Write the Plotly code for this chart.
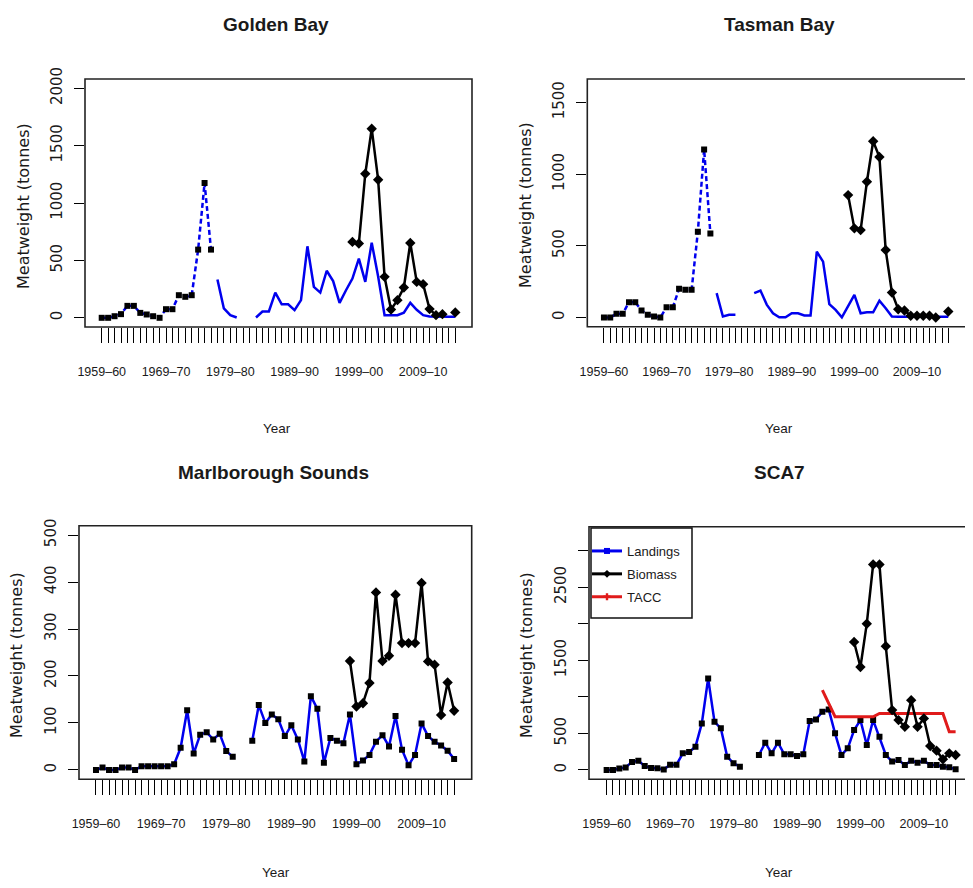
import plotly.graph_objects as go

# ---------------- data ----------------
years = list(range(1959, 2015))
early_years = list(range(1959, 1977))          # combined Golden+Tasman Bay (dashed)
late_years = list(range(1977, 2015))
bio_years = list(range(1998, 2015))
tacc_years = list(range(1993, 2015))

gb_early = [0, 0, 14, 32, 104, 104, 43, 29, 14, 0, 75, 75, 197, 183, 197, 594, 1174, 594]
tb_early = [0, 0, 26, 26, 107, 107, 49, 19, 7, 0, 72, 72, 200, 193, 193, 599, 1172, 587]

gb_landings = [334, 82, 23, 3, None, None, 3, 55, 55, 220, 118, 118, 67, 154, 623, 270,
               220, 410, 320, 130, 240, 342, 516, 313, 655, 360, 23, 23, 23, 45, 130, 70,
               23, 12, 9, 9, 9, 9]
gb_biomass = [661, 647, 1255, 1647, 1203, 357, 73, 154, 264, 652, 313, 293, 76, 23, 32, None, 47]

tb_landings = [170, 7, 19, 19, None, None, 170, 188, 90, 30, 2, 2, 30, 30, 14, 14,
               459, 390, 93, 53, 2, 77, 158, 30, 37, 37, 118, 65, 7, 5, 5, 5,
               5, 5, 5, 5, 5, 5]
tb_biomass = [854, 622, 610, 947, 1230, 1120, 471, 174, 58, 49, 12, 12, 12, 12, 0, None, 42]

ms_landings = [0, 5, 0, 0, 5, 5, 0, 8, 8, 8, 8, 8, 12, 47, 127, 35, 75, 80, 65, 77, 40, 28,
               None, None,
               62, 138, 100, 118, 108, 72, 95, 65, 18, 157, 130, 15, 68, 62, 57, 118, 12, 20,
               32, 60, 74, 50, 115, 43, 10, 32, 99, 72, 60, 52, 41, 23]
ms_biomass = [232, 135, 142, 185, 378, 232, 243, 373, 270, 270, 270, 398, 231, 224, 117, 186, 126]

sca7_landings = [0, 0, 20, 35, 110, 125, 55, 25, 23, 5, 70, 70, 227, 245, 318, 637, 1251, 659,
                 569, 182, 91, 45, None, None,
                 205, 373, 227, 373, 214, 214, 191, 214, 668, 691, 796, 828, 501, 205, 296,
                 546, 682, 341, 682, 455, 205, 114, 136, 68, 127, 100, 127, 68, 68, 45, 36, 9]
sca7_biomass = [1750, 1409, 2001, 2810, 2810, 1692, 819, 682, 591, 955, 591, 705, 327, 264,
                146, 227, 205]
sca7_tacc = [1092, 910, 728, 728, 728, 728, 728, 728, 728, 773, 773, 773, 773, 773, 773,
             773, 773, 773, 773, 773, 523, 523]

x_labels = {1959: "1959–60", 1969: "1969–70", 1979: "1979–80",
            1989: "1989–90", 1999: "1999–00", 2009: "2009–10"}

titles = ["Golden Bay", "Tasman Bay", "Marlborough Sounds", "SCA7"]
y_title = "Meatweight (tonnes)"
x_title = "Year"
legend_names = ["Landings", "Biomass", "TACC"]

# ---------------- style ----------------
PAGE_W, PAGE_H = 973, 888
OFF = 8                      # default body margin of the page
W, H = PAGE_W - 2 * OFF, PAGE_H - 2 * OFF
BLUE = "#0000ee"
BLACK = "#000000"
RED = "#e01b1b"
TXT = "#1a1a1a"
SANS = "Liberation Sans, Arial, Helvetica, sans-serif"
WIDE = "DejaVu Sans, Verdana, sans-serif"

def px_x(p):
    return (p - OFF) / W

def px_y(p):
    return 1 - (p - OFF) / H

panels = [
    dict(xd=(85, 472), yd=(79, 327), xr=[1956.4, 2016.6], yr=[-80, 2080],
         yt=[0, 500, 1000, 1500, 2000], ytt=["0", "500", "1000", "1500", "2000"]),
    dict(xd=(587.3, 973), yd=(79, 326.7), xr=[1956.34, 2016.67], yr=[-64, 1664],
         yt=[0, 500, 1000, 1500], ytt=["0", "500", "1000", "1500"]),
    dict(xd=(79, 471.7), yd=(525.7, 779.3), xr=[1956.39, 2016.7], yr=[-20, 520],
         yt=[0, 100, 200, 300, 400, 500], ytt=["0", "100", "200", "300", "400", "500"]),
    dict(xd=(589, 973), yd=(526.7, 779.3), xr=[1956.22, 2015.48], yr=[-128, 3328],
         yt=[0, 500, 1000, 1500, 2000, 2500, 3000],
         ytt=["0", "500", "", "1500", "", "2500", ""]),
]

fig = go.Figure()

def add(trace, i):
    sfx = "" if i == 0 else str(i + 1)
    trace.update(xaxis="x" + sfx, yaxis="y" + sfx)
    fig.add_trace(trace)

sq = dict(symbol="square", size=6, color=BLACK)
dia = dict(symbol="diamond", size=8, color=BLACK)

# Golden Bay
add(go.Scatter(x=early_years, y=gb_early, mode="lines+markers",
               line=dict(color=BLUE, width=2.5, dash="5px,3px"), marker=sq, showlegend=False), 0)
add(go.Scatter(x=late_years, y=gb_landings, mode="lines",
               line=dict(color=BLUE, width=2.5), showlegend=False), 0)
add(go.Scatter(x=bio_years, y=gb_biomass, mode="lines+markers",
               line=dict(color=BLACK, width=2.5), marker=dia, showlegend=False), 0)
# Tasman Bay
add(go.Scatter(x=early_years, y=tb_early, mode="lines+markers",
               line=dict(color=BLUE, width=2.5, dash="5px,3px"), marker=sq, showlegend=False), 1)
add(go.Scatter(x=late_years, y=tb_landings, mode="lines",
               line=dict(color=BLUE, width=2.5), showlegend=False), 1)
add(go.Scatter(x=bio_years, y=tb_biomass, mode="lines+markers",
               line=dict(color=BLACK, width=2.5), marker=dia, showlegend=False), 1)
# Marlborough Sounds
add(go.Scatter(x=years, y=ms_landings, mode="lines+markers",
               line=dict(color=BLUE, width=2.5), marker=sq, showlegend=False), 2)
add(go.Scatter(x=bio_years, y=ms_biomass, mode="lines+markers",
               line=dict(color=BLACK, width=2.5), marker=dia, showlegend=False), 2)
# SCA7
add(go.Scatter(x=years, y=sca7_landings, mode="lines+markers",
               line=dict(color=BLUE, width=2.5), marker=sq, showlegend=False), 3)
add(go.Scatter(x=tacc_years, y=sca7_tacc, mode="lines",
               line=dict(color=RED, width=3), showlegend=False), 3)
add(go.Scatter(x=bio_years, y=sca7_biomass, mode="lines+markers",
               line=dict(color=BLACK, width=2.5), marker=dia, showlegend=False), 3)
# legend entries
for name, col, sym in zip(legend_names, [BLUE, BLACK, RED], ["square", "diamond", "cross"]):
    add(go.Scatter(x=[None], y=[None], mode="lines+markers", name=name, legendgroup=name,
                   line=dict(color=col, width=3), marker=dict(color=col, symbol=sym, size=6),
                   showlegend=True), 3)

layout = {}
shapes = []
annotations = []
for i, p in enumerate(panels):
    sfx = "" if i == 0 else str(i + 1)
    xd = [px_x(p["xd"][0]), min(1.0, px_x(p["xd"][1]))]
    yd = [px_y(p["yd"][1]), px_y(p["yd"][0])]
    layout["xaxis" + sfx] = dict(
        domain=xd, anchor="y" + sfx, range=p["xr"], showgrid=False, zeroline=False,
        showline=False, tickmode="array", tickvals=years, automargin=False,
        ticktext=[x_labels.get(y, "") for y in years],
        ticks="outside", ticklen=15, tickwidth=1, tickcolor=BLACK,
        tickfont=dict(family=SANS, size=12.5, color=TXT), tickangle=0,
        ticklabelstandoff=18)
    layout["yaxis" + sfx] = dict(
        domain=yd, anchor="x" + sfx, range=p["yr"], showgrid=False, zeroline=False,
        showline=False, tickmode="array", tickvals=p["yt"], ticktext=p["ytt"],
        automargin=False,
        ticks="outside", ticklen=10, tickwidth=1, tickcolor=BLACK,
        tickfont=dict(family=WIDE, size=15, color=TXT), tickangle=-90,
        ticklabelstandoff=6)
    xr = "x" + sfx + " domain"
    yr = "y" + sfx + " domain"
    x1 = 1.0 if p["xd"][1] < PAGE_W else 1.02
    shapes.append(dict(type="rect", xref=xr, yref=yr, x0=0, x1=x1, y0=0, y1=1,
                       line=dict(color="#222", width=1.6), layer="above"))

# legend frame
shapes.append(dict(type="rect", xref="paper", yref="paper",
                   x0=px_x(591), x1=px_x(692), y0=px_y(618), y1=px_y(528),
                   line=dict(color="#111", width=1.5), fillcolor="white", layer="above"))

title_pos = [(276, 25), (779, 25), (273, 472), (779, 472)]
ytitle_pos = [(23, 206), (525, 205), (16, 655), (526, 655)]
xtitle_pos = [(277, 428), (779, 428), (276, 872), (779, 872)]
for i in range(4):
    tx, ty = title_pos[i]
    annotations.append(dict(text=titles[i], x=px_x(tx), y=px_y(ty), xref="paper", yref="paper",
                            showarrow=False, xanchor="center", yanchor="middle",
                            font=dict(family=SANS, size=19, color=TXT, weight="bold")))
    ax, ay = ytitle_pos[i]
    annotations.append(dict(text=y_title, x=px_x(ax), y=px_y(ay), xref="paper", yref="paper",
                            showarrow=False, xanchor="center", yanchor="middle", textangle=-90,
                            font=dict(family=WIDE, size=16, color=TXT)))
    bx, by = xtitle_pos[i]
    annotations.append(dict(text=x_title, x=px_x(bx), y=px_y(by), xref="paper", yref="paper",
                            showarrow=False, xanchor="center", yanchor="middle",
                            font=dict(family=SANS, size=13.5, color=TXT)))

fig.update_layout(
    **layout,
    width=W, height=H, autosize=False,
    margin=dict(l=0, r=0, t=0, b=0, pad=0, autoexpand=False),
    paper_bgcolor="white", plot_bgcolor="white",
    shapes=shapes, annotations=annotations,
    showlegend=True,
    legend=dict(x=px_x(587), y=px_y(536), xanchor="left", yanchor="top",
                bgcolor="rgba(0,0,0,0)", borderwidth=0,
                font=dict(family=SANS, size=13, color=TXT),
                tracegroupgap=3, itemwidth=30),
)

fig.write_html("out.html", config={"displayModeBar": False})
